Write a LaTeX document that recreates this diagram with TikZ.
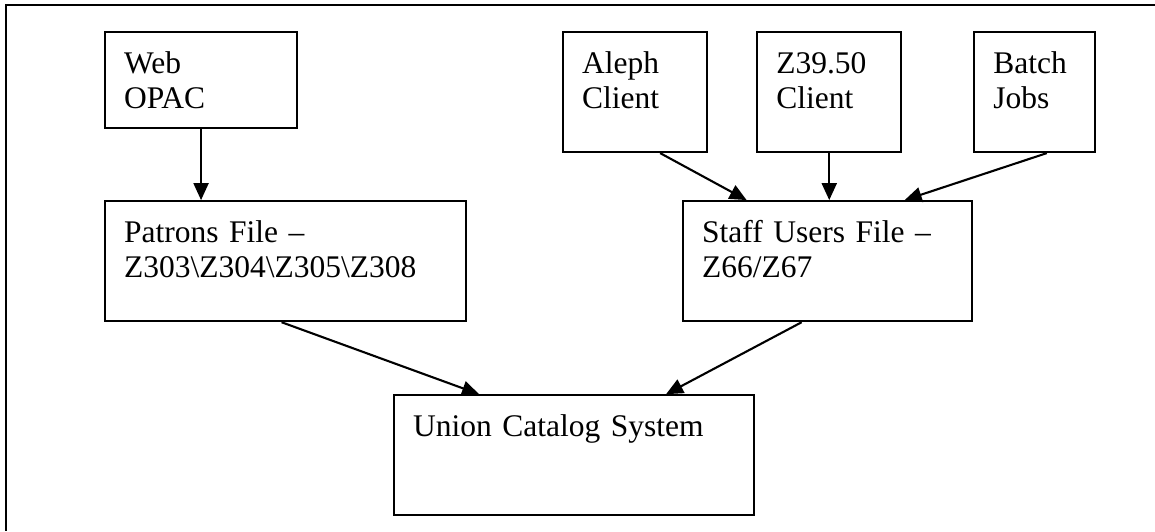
\documentclass[tikz,border=0pt]{standalone}
\usepackage{fontspec}
\setmainfont{Liberation Serif}
\usepackage{tikz}
\usetikzlibrary{arrows.meta, positioning}

\begin{document}
\begin{tikzpicture}[
		box/.style={rectangle, draw, line width=2.1pt, align=left, inner xsep=19pt, inner ysep=0pt, text height=41pt, font=\fontsize{31.5pt}{35pt}\selectfont},
		flow/.style={-{Triangle[length=17pt, width=15pt]}, line width=2.1pt}
	]
			\useasboundingbox (0,0) rectangle (1155pt,-531pt);
			
			% frame (top and left edge only)
			\coordinate (frametop) at (1155pt,-5pt);
			\coordinate (framecorner) at (6pt,-5pt);
			\coordinate (framebottom) at (6pt,-531pt);
			\draw[line width=2.6pt] (frametop) -- (framecorner) -- (framebottom);
			
			\node[box, text width=154pt, text depth=55pt, anchor=north west] (web) at (104pt,-31pt) {Web\\OPAC};
			
			\node[box, text width=106pt, text depth=79pt, right=264pt of web.north east, anchor=north west] (aleph) {Aleph\\Client};
			
			\node[box, text width=106pt, text depth=79pt, right=48pt of aleph.north east, anchor=north west] (zclient) {Z39.50\\Client};
			
			\node[box, text width=83pt, text depth=79pt, right=71pt of zclient.north east, anchor=north west] (batch) {Batch\\Jobs};
			
			\node[box, text width=323pt, text depth=79pt, below=71pt of web.south west, anchor=north west] (patrons) {Patrons File --\\Z303\textbackslash Z304\textbackslash Z305\textbackslash Z308};
			
			\node[box, text width=251pt, text depth=79pt, right=215pt of patrons.north east, anchor=north west] (staff) {Staff Users File --\\Z66/Z67};
			
			\node[box, text width=322pt, text depth=79pt, below=72pt of patrons.south west, xshift=289pt, anchor=north west] (union) {Union Catalog System};
			
			\draw[flow] (web.south) -- (web.south |- patrons.north);
			
			\draw[flow] ([xshift=25pt]aleph.south) -- ([xshift=-81pt]staff.north);
			
			\draw[flow] (zclient.south) -- (zclient.south |- staff.north);
			
			\draw[flow] ([xshift=12pt]batch.south) -- ([xshift=77pt]staff.north);
			
			\draw[flow] ([xshift=-4pt]patrons.south) -- ([xshift=-95pt]union.north);
			
			\draw[flow] ([xshift=-26pt]staff.south) -- ([xshift=92pt]union.north);
		\end{tikzpicture}
\end{document}
